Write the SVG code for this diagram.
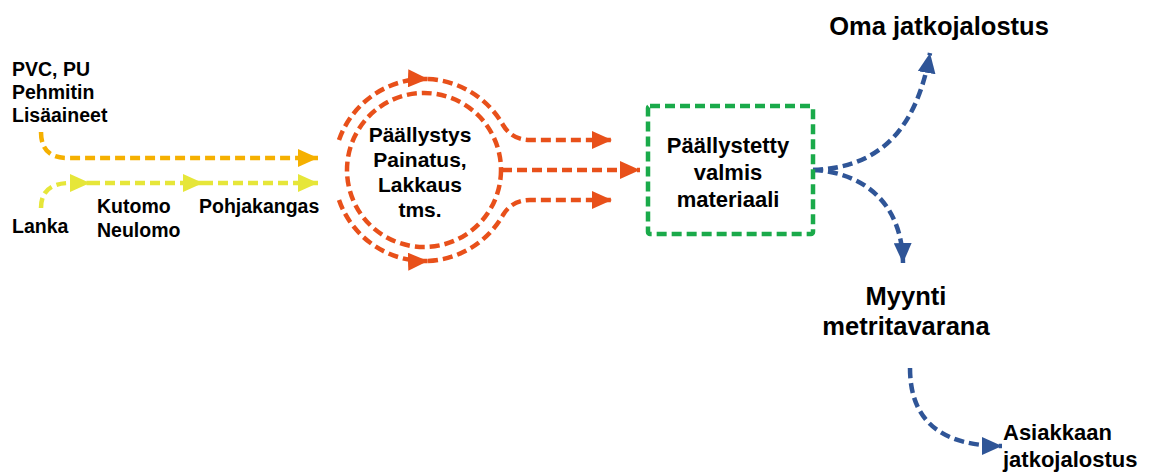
<svg xmlns="http://www.w3.org/2000/svg" width="1150" height="473" viewBox="0 0 1150 473">
<style>
text{font-family:"Liberation Sans",Arial,sans-serif;font-weight:bold;fill:#000}
.l{font-size:19.5px}
.c{font-size:21px;text-anchor:middle}
.b{font-size:22px;text-anchor:middle}
.big{font-size:25.5px;text-anchor:middle}
.d{fill:none;stroke-width:4.5;stroke-dasharray:10 5}
.or{stroke:#F5B000}
.ye{stroke:#E6E639}
.rd{stroke:#E8501A}
.bl{stroke:#2F5597}
</style>
<defs>
<marker id="aor" markerUnits="userSpaceOnUse" markerWidth="22" markerHeight="18" refX="20" refY="9" orient="auto"><path d="M0,0L20,9L0,18z" fill="#F5B000"/></marker>
<marker id="aye" markerUnits="userSpaceOnUse" markerWidth="22" markerHeight="18" refX="20" refY="9" orient="auto"><path d="M0,0L20,9L0,18z" fill="#E6E639"/></marker>
<marker id="ard" markerUnits="userSpaceOnUse" markerWidth="22" markerHeight="18" refX="20" refY="9" orient="auto"><path d="M0,0L20,9L0,18z" fill="#E8501A"/></marker>
<marker id="abl" markerUnits="userSpaceOnUse" markerWidth="22" markerHeight="18" refX="20" refY="9" orient="auto"><path d="M0,0L20,9L0,18z" fill="#2F5597"/></marker>
</defs>
<g id="connectors">
<path class="d or" d="M41,132 Q41,158 67,158 L318,158" marker-end="url(#aor)"/>
<path class="d ye" d="M41,208 Q41,183 70,183 L90,183" marker-end="url(#aye)"/>
<path class="d ye" d="M90,183 L203,183" marker-end="url(#aye)"/>
<path class="d ye" d="M203,183 L318,183" marker-end="url(#aye)"/>
<path class="d rd" d="M339,140 A91,91 0 0 1 428,79" marker-end="url(#ard)"/>
<path class="d rd" d="M428,79 A91,91 0 0 1 503,125 Q512,140 530,140 L612,140" marker-end="url(#ard)"/>
<path class="d rd" d="M339,200 A91,91 0 0 0 428,261" marker-end="url(#ard)"/>
<path class="d rd" d="M428,261 A91,91 0 0 0 503,215 Q512,200 530,200 L612,200" marker-end="url(#ard)"/>
<path class="d rd" d="M502,170 L640,170" marker-end="url(#ard)"/>
<path class="d bl" d="M813,170 C870,168 915,140 930,53" marker-end="url(#abl)"/>
<path class="d bl" d="M813,170 C860,172 902,200 903,263" marker-end="url(#abl)"/>
<path class="d bl" d="M910,368 C910,420 940,446 1002,446" marker-end="url(#abl)"/>
</g>
<g id="inputs">
<text class="l" x="12" y="76">PVC, PU</text>
<text class="l" x="12" y="99">Pehmitin</text>
<text class="l" x="12" y="122">Lisäaineet</text>
</g>
<g id="lanka"><text class="l" x="12" y="233">Lanka</text></g>
<g id="kutomo">
<text class="l" x="97" y="213">Kutomo</text>
<text class="l" x="97" y="237">Neulomo</text>
</g>
<g id="pohjakangas"><text class="l" x="199" y="213">Pohjakangas</text></g>
<g id="paallystys">
<circle cx="424" cy="170" r="77" fill="none" stroke="#E8501A" stroke-width="4.5" stroke-dasharray="10 5"/>
<text class="c" x="420" y="142">Päällystys</text>
<text class="c" x="420" y="167">Painatus,</text>
<text class="c" x="420" y="192">Lakkaus</text>
<text class="c" x="420" y="217">tms.</text>
</g>
<g id="valmis">
<rect x="648" y="106" width="165" height="128" rx="2" fill="none" stroke="#1AAA4A" stroke-width="4.5" stroke-dasharray="10 5"/>
<text class="b" x="728" y="153">Päällystetty</text>
<text class="b" x="728" y="180">valmis</text>
<text class="b" x="728" y="207">materiaali</text>
</g>
<g id="oma"><text class="big" x="939" y="35">Oma jatkojalostus</text></g>
<g id="myynti">
<text class="big" x="906" y="305">Myynti</text>
<text class="big" x="906" y="335">metritavarana</text>
</g>
<g id="asiakkaan">
<text class="b" x="1003" y="440" style="text-anchor:start">Asiakkaan</text>
<text class="b" x="1003" y="467" style="text-anchor:start">jatkojalostus</text>
</g>
</svg>
